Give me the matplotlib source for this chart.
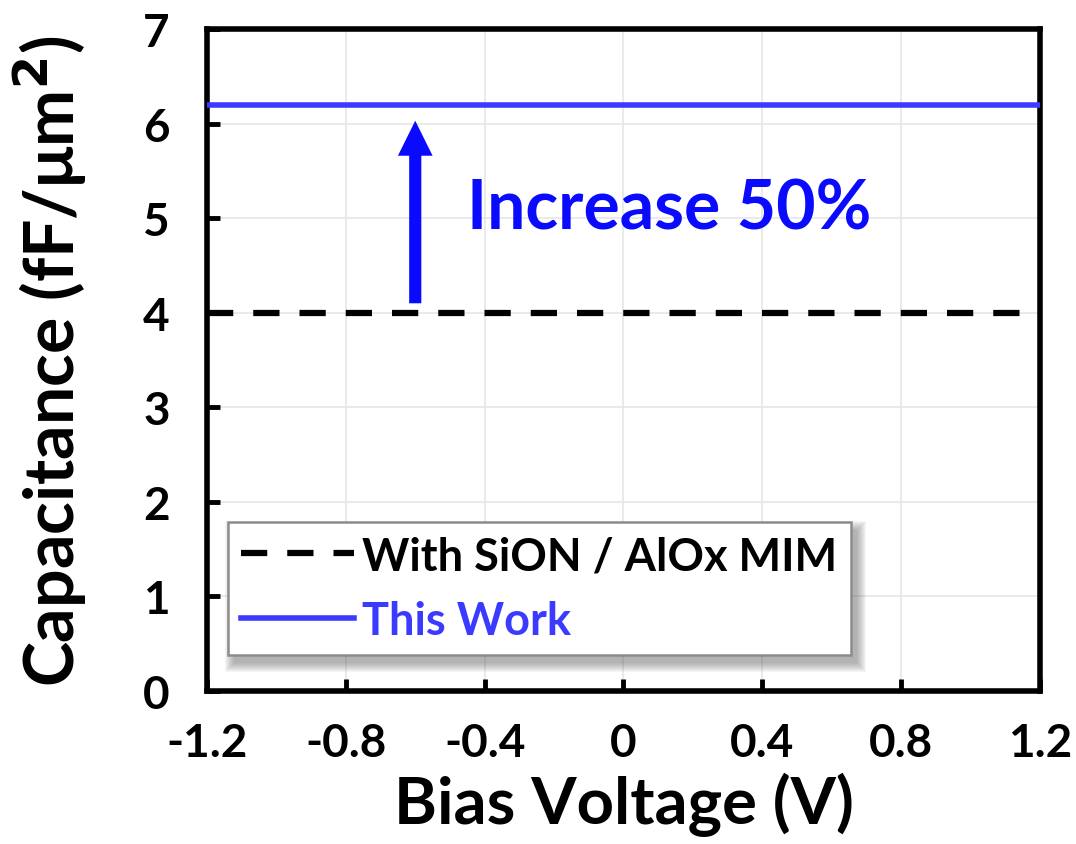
import matplotlib
matplotlib.use("Agg")
import matplotlib.pyplot as plt
from matplotlib.patches import Rectangle
from matplotlib.transforms import IdentityTransform

# Data
voltage = [-1.2, 1.2]
cap_sion_alox = [4.0, 4.0]
cap_this_work = [6.2, 6.2]
x_ticks = [-1.2, -0.8, -0.4, 0, 0.4, 0.8, 1.2]
x_tick_labels = ["-1.2", "-0.8", "-0.4", "0", "0.4", "0.8", "1.2"]
y_ticks = [0, 1, 2, 3, 4, 5, 6, 7]
series_labels = ["With SiON / AlOx MIM", "This Work"]
annotation_text = "Increase 50%"

plt.rcParams["font.family"] = ["Lato", "DejaVu Sans"]
plt.rcParams["font.weight"] = "bold"

fig = plt.figure(figsize=(10.76, 8.45), dpi=100)
ax = fig.add_axes([0.1924, 0.181, 0.7741, 0.7835])

blue_line = "#3b3bff"
blue_mark = "#0a0aff"

ax.plot(voltage, cap_sion_alox, color="black", lw=4.5, ls=(0, (4.2, 3.2)),
        label=series_labels[0], solid_capstyle="butt", dash_capstyle="butt", zorder=3)
ax.plot(voltage, cap_this_work, color=blue_line, lw=4.0,
        label=series_labels[1], zorder=3)

# Arrow showing the capacitance increase
ax.arrow(-0.6, 4.1, 0, 6.03 - 4.1, width=0.035, head_width=0.10,
         head_length=0.37, length_includes_head=True,
         color=blue_mark, lw=0, zorder=4)
ax.text(-0.45, 5.1, annotation_text, color=blue_mark, fontsize=49,
        fontweight="bold", ha="left", va="center")

ax.set_xlim(-1.2, 1.2)
ax.set_ylim(0, 7)
ax.set_xticks(x_ticks)
ax.set_xticklabels(x_tick_labels)
ax.set_yticks(y_ticks)

ax.grid(True, color="#e6e6e6", lw=1.2, zorder=0)
ax.set_axisbelow(True)

for s in ax.spines.values():
    s.set_linewidth(4.0)
    s.set_color("black")

ax.tick_params(axis="both", direction="in", length=9, width=3.5,
               labelsize=33, colors="black")
ax.tick_params(axis="y", pad=27)
ax.tick_params(axis="x", pad=22)
for lab in ax.get_xticklabels() + ax.get_yticklabels():
    lab.set_fontweight("bold")

ax.set_xlabel("Bias Voltage (V)", fontsize=47, fontweight="bold")
ax.xaxis.set_label_coords(0.5, -0.122)
ax.set_ylabel("Capacitance (fF/\u03bcm$^\\mathbf{2}$)", fontsize=49,
              fontweight="bold")
ax.yaxis.set_label_coords(-0.142, 0.5)

leg = ax.legend(loc="upper left", bbox_to_anchor=(0.025, 0.256), fontsize=32.5,
                handlelength=2.5, handletextpad=0.18, borderpad=0.3,
                labelspacing=0.5, frameon=True, fancybox=False, framealpha=1.0,
                shadow=False, borderaxespad=0)
leg.set_zorder(6)
leg.get_frame().set_edgecolor("#8c8c8c")
leg.get_frame().set_linewidth(1.8)
for txt, col in zip(leg.get_texts(), ["black", blue_line]):
    txt.set_color(col)
    txt.set_fontweight("bold")

# Soft drop shadow behind the legend frame
fig.canvas.draw()
bb = leg.get_frame().get_window_extent()
for grow in range(9, -1, -1):
    ax.add_patch(Rectangle((bb.x0 + 6 - grow, bb.y0 - 8 - grow),
                           bb.width + 2 * grow, bb.height + 2 * grow,
                           transform=IdentityTransform(), facecolor="#606060",
                           edgecolor="none", alpha=0.06, zorder=5.5,
                           clip_on=False))

fig.savefig("out.png", dpi=100)
